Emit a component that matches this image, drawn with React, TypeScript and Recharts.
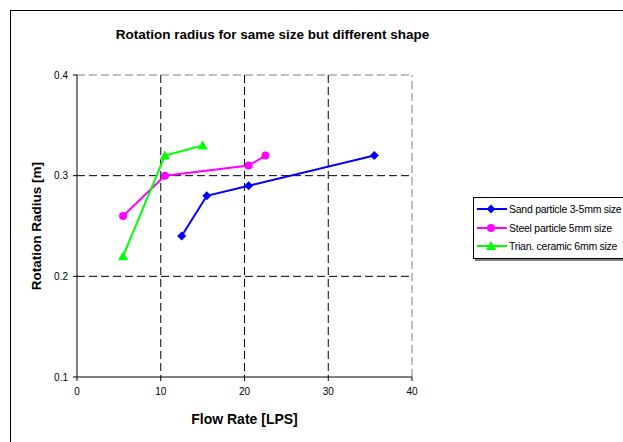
import React from 'react';
import { LineChart, Line, XAxis, YAxis, CartesianGrid, ReferenceLine, Label } from 'recharts';

const sandFlow = [12.5, 15.5, 20.5, 35.5];
const sandRadius = [0.24, 0.28, 0.29, 0.32];
const steelFlow = [5.5, 10.5, 20.5, 22.5];
const steelRadius = [0.26, 0.3, 0.31, 0.32];
const ceramicFlow = [5.5, 10.5, 15];
const ceramicRadius = [0.22, 0.32, 0.33];

const xTicks = [0, 10, 20, 30, 40];
const yTicks = [0.1, 0.2, 0.3, 0.4];

const toPoints = (xs: number[], ys: number[]) => xs.map((x, i) => ({ x, y: ys[i] }));

const series = [
  { name: 'Sand particle 3-5mm size', color: '#0000FF', shape: 'diamond', data: toPoints(sandFlow, sandRadius) },
  { name: 'Steel particle 5mm size', color: '#FF00FF', shape: 'circle', data: toPoints(steelFlow, steelRadius) },
  { name: 'Trian. ceramic 6mm size', color: '#00FF00', shape: 'triangle', data: toPoints(ceramicFlow, ceramicRadius) },
];

const Marker = ({ cx, cy, shape, color }: { cx: number; cy: number; shape: string; color: string }) => {
  if (shape === 'diamond') {
    return <polygon points={`${cx},${cy - 4.5} ${cx + 4.5},${cy} ${cx},${cy + 4.5} ${cx - 4.5},${cy}`} fill={color} />;
  }
  if (shape === 'triangle') {
    return <polygon points={`${cx},${cy - 5} ${cx + 5},${cy + 4} ${cx - 5},${cy + 4}`} fill={color} />;
  }
  return <circle cx={cx} cy={cy} r={4} fill={color} />;
};

const LegendBox = () => (
  <div
    style={{
      position: 'absolute',
      left: 473,
      top: 197,
      border: '1px solid #000',
      boxShadow: '2px 2px 0 #808080',
      background: '#fff',
      padding: '2px 0 2px 2px',
      width: 200,
      fontFamily: 'Liberation Sans, Arial, sans-serif',
      fontSize: 10.5,
      color: '#000',
    }}
  >
    {series.map((s) => (
      <div key={s.name} style={{ display: 'flex', alignItems: 'center', height: 18.5, whiteSpace: 'nowrap' }}>
        <svg width={32} height={12} style={{ flex: 'none' }}>
          <line x1={1} y1={6} x2={31} y2={6} stroke={s.color} strokeWidth={2} />
          <Marker cx={15} cy={6} shape={s.shape} color={s.color} />
        </svg>
        <span style={{ marginLeft: 1, letterSpacing: -0.25 }}>{s.name}</span>
      </div>
    ))}
  </div>
);

export default function App() {
  return (
    <div style={{ position: 'absolute', left: 0, top: 0, width: 623, height: 442, overflow: 'hidden', background: '#fff' }}>
      <div style={{ position: 'absolute', left: 10, top: 10, width: 700, height: 500, border: '1px solid #000' }} />
      <div
        style={{
          position: 'absolute',
          left: 0,
          top: 27,
          width: 545,
          textAlign: 'center',
          fontFamily: 'Liberation Sans, Arial, sans-serif',
          fontWeight: 'bold',
          fontSize: 13.5,
        }}
      >
        Rotation radius for same size but different shape
      </div>
      <div style={{ position: 'absolute', left: 0, top: 0 }}>
        <LineChart
          width={623}
          height={442}
          margin={{ top: 75, right: 211, bottom: 0, left: 0 }}
          style={{ fontFamily: 'Liberation Sans, Arial, sans-serif' }}
        >
          <CartesianGrid
            horizontalValues={[0.2, 0.3]}
            verticalValues={[10, 20, 30]}
            stroke="#000"
            strokeDasharray="8 4"
          />
          <ReferenceLine y={0.4} stroke="#808080" strokeDasharray="8 4" />
          <ReferenceLine x={40} stroke="#808080" strokeDasharray="8 4" />
          <XAxis
            type="number"
            dataKey="x"
            domain={[0, 40]}
            ticks={xTicks}
            height={65}
            tickSize={4}
            tickMargin={7}
            stroke="#000"
            tick={{ fill: '#000', fontSize: 10 }}
            allowDuplicatedCategory={false}
          >
            <Label value="Flow Rate [LPS]" position="center" dy={10} style={{ fontWeight: 'bold', fontSize: 14, fill: '#000' }} />
          </XAxis>
          <YAxis
            type="number"
            dataKey="y"
            domain={[0.1, 0.4]}
            ticks={yTicks}
            width={77}
            tickSize={4}
            tickMargin={5}
            stroke="#000"
            tick={{ fill: '#000', fontSize: 10 }}
            tickFormatter={(v: number) => v.toFixed(1)}
          >
            <Label value="Rotation Radius [m]" angle={-90} position="center" dx={-2} style={{ fontWeight: 'bold', fontSize: 13.5, fill: '#000', textAnchor: 'middle' }} />
          </YAxis>
          {series.map((s) => (
            <Line
              key={s.name}
              data={s.data}
              dataKey="y"
              name={s.name}
              type="linear"
              stroke={s.color}
              strokeWidth={2}
              isAnimationActive={false}
              dot={(p: any) => <Marker key={`${s.name}-${p.index}`} cx={p.cx} cy={p.cy} shape={s.shape} color={s.color} />}
              activeDot={false}
            />
          ))}
        </LineChart>
      </div>
      <LegendBox />
    </div>
  );
}
